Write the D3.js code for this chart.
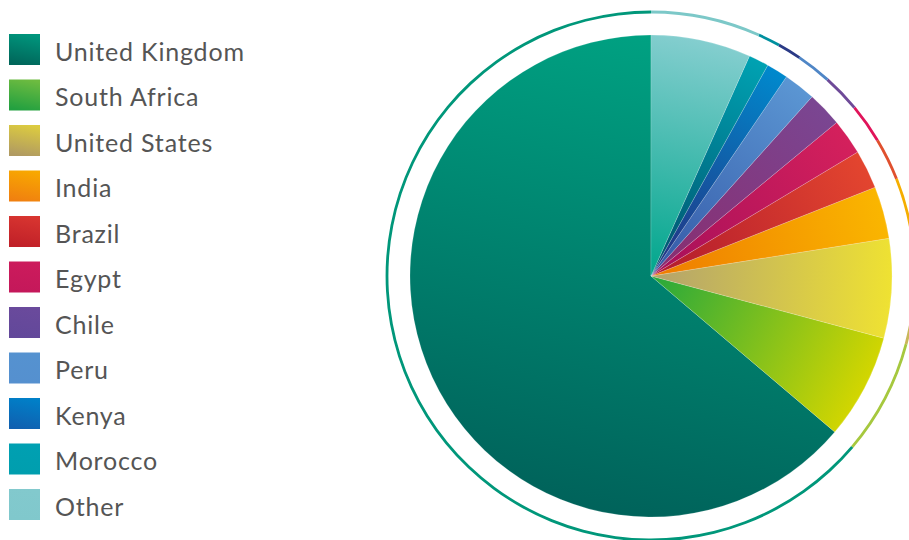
<!DOCTYPE html>
<html>
<head>
<meta charset="utf-8">
<script src="https://cdn.jsdelivr.net/npm/d3@7"></script>
<style>
  body { margin: 0; background: #fff; }
  svg { display: block; }
</style>
</head>
<body>
<svg id="chart" width="909" height="540"></svg>
<script>
// share of total, in legend order
const countries = ['United Kingdom', 'South Africa', 'United States', 'India', 'Brazil',
  'Egypt', 'Chile', 'Peru', 'Kenya', 'Morocco', 'Other'];
const shares = [63.8, 7.05, 6.65, 3.5, 2.6, 2.4, 2.35, 2.15, 1.45, 1.35, 6.7];

// inner -> outer gradient stops per slice, and the legend swatch colours
const gradInner = ['#00a383', '#26a83c', '#b2a26e', '#ee7a00', '#b11a2c',
  '#a60f5a', '#8a2c6e', '#3357a6', '#252d7e', '#004f6a', '#00a68c'];
const gradOuter = ['#00625a', '#d3d600', '#efe232', '#fab600', '#e3452f',
  '#d4205c', '#7a4692', '#5b96d3', '#0089cd', '#00a2b2', '#84cecf'];
const swatchTop = ['#00957c', '#6dbb40', '#dccb40', '#f8a800', '#d83530',
  '#cc1b5c', '#6a4a9c', '#5592d0', '#0080c8', '#00a0b2', '#82c9cd'];
const swatchBottom = ['#00665a', '#22a040', '#b09a62', '#f08010', '#c02028',
  '#c4185a', '#62489a', '#5590cf', '#1060b0', '#009eae', '#80c8cc'];
const ringColor = ['#00977a', '#a6c83e', '#c9b75a', '#f5ae00', '#e0502e',
  '#e0145a', '#6e4a98', '#4f86c6', '#2a3a86', '#00909f', '#7cc8c8'];

const svg = d3.select('#chart');
const defs = svg.append('defs');

const cx = 651, cy = 276, r = 241, ringR = 264;

const data = countries.map((c, i) => ({ name: c, value: shares[i], i }));

const pie = d3.pie()
  .sort(null)
  .value(d => d.value)
  .startAngle(2 * Math.PI)
  .endAngle(0);

const arcs = pie(data);

// slice gradients, in user space of the centred group
arcs.forEach(a => {
  const i = a.data.i;
  const mid = (a.startAngle + a.endAngle) / 2;
  let x1 = 0, y1 = 0, x2 = r * Math.sin(mid), y2 = -r * Math.cos(mid);
  if (i === 0) { x1 = 0.25 * r; y1 = -r; x2 = -0.2 * r; y2 = r; }
  const g = defs.append('linearGradient')
    .attr('id', 'g' + i)
    .attr('gradientUnits', 'userSpaceOnUse')
    .attr('x1', x1).attr('y1', y1).attr('x2', x2).attr('y2', y2);
  g.append('stop').attr('offset', 0).attr('stop-color', gradInner[i]);
  g.append('stop').attr('offset', 1).attr('stop-color', gradOuter[i]);

  const s = defs.append('linearGradient')
    .attr('id', 's' + i)
    .attr('x1', 0.6).attr('y1', 0).attr('x2', 0.4).attr('y2', 1);
  s.append('stop').attr('offset', 0).attr('stop-color', swatchTop[i]);
  s.append('stop').attr('offset', 1).attr('stop-color', swatchBottom[i]);
});

const g = svg.append('g').attr('transform', `translate(${cx},${cy})`);

const arc = d3.arc().innerRadius(0).outerRadius(r);
const ring = d3.arc().innerRadius(ringR - 1.4).outerRadius(ringR + 1.4);

g.selectAll('path.slice')
  .data(arcs)
  .enter().append('path')
  .attr('class', 'slice')
  .attr('d', arc)
  .attr('fill', d => `url(#g${d.data.i})`)
  .attr('stroke', 'rgba(255,255,255,0.35)')
  .attr('stroke-width', 0.5);

g.selectAll('path.ring')
  .data(arcs)
  .enter().append('path')
  .attr('class', 'ring')
  .attr('d', ring)
  .attr('fill', d => ringColor[d.data.i]);

// legend
const legend = svg.append('g').attr('transform', 'translate(9,34)');
const row = legend.selectAll('g')
  .data(data)
  .enter().append('g')
  .attr('transform', (d, i) => `translate(0,${i * 45.5})`);

row.append('rect')
  .attr('width', 31)
  .attr('height', 31)
  .attr('fill', d => `url(#s${d.i})`);

row.append('text')
  .attr('x', 46)
  .attr('y', 26.5)
  .attr('font-family', 'Lato, sans-serif')
  .attr('font-size', 25)
  .attr('letter-spacing', 0.8)
  .attr('fill', '#555')
  .text(d => d.name);
</script>
</body>
</html>
